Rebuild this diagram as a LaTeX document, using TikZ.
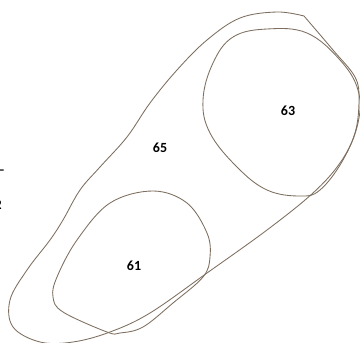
\documentclass[tikz,border=0pt]{standalone}
\usepackage{fontspec}
\setmainfont{Carlito}
\definecolor{edge}{RGB}{125,110,95}
\tikzset{
  blob/.style={draw=edge, line width=0.85pt},
  lbl/.style={font=\bfseries\fontsize{14}{16}\selectfont, text=black, inner sep=0pt},
  frag/.style={font=\bfseries\fontsize{14}{16}\selectfont, text=black, inner sep=0pt, anchor=east}
}
\begin{document}
\begin{tikzpicture}[x=1pt,y=-1pt]
\clip (0,0) rectangle (360,343);
\fill[white] (0,0) rectangle (360,343);
% outer region 65
\draw[blob] plot[smooth, tension=0.6] coordinates {
 (304,16) (277,12) (240,18) (207,40) (177,70) (150,103) (127,137) (100,167)
 (80,190) (63,220) (50,240) (27,270) (10,300) (13,327) (40,342) (73,342)
 (110,332) (150,313) (207,273) (267,230) (313,193) (340,163) (355,133)
 (359,100) (355,77) (333,50) (304,16)};
% region 63
\draw[blob] plot[smooth cycle, tension=0.65] coordinates {
 (267,29) (233,37) (213,63) (203,100) (210,133) (237,167) (267,190) (300,196)
 (320,190) (343,160) (358,123) (358,90) (340,60) (307,33)};
% region 61
\draw[blob] plot[smooth cycle, tension=0.6] coordinates {
 (153,191) (187,203) (207,233) (210,257) (203,277) (173,303) (143,327)
 (120,333) (107,332) (63,312) (53,297) (57,277) (77,240) (110,203)};
\node[lbl] (n63) at (288,111) {63};
\node[lbl] (n65) at (160,148) {65};
\node[lbl] (n61) at (134,266) {61};
\node[frag] (f1) at (5,172) {–};
\node[frag] (f2) at (2,205) {2};
\end{tikzpicture}
\end{document}
